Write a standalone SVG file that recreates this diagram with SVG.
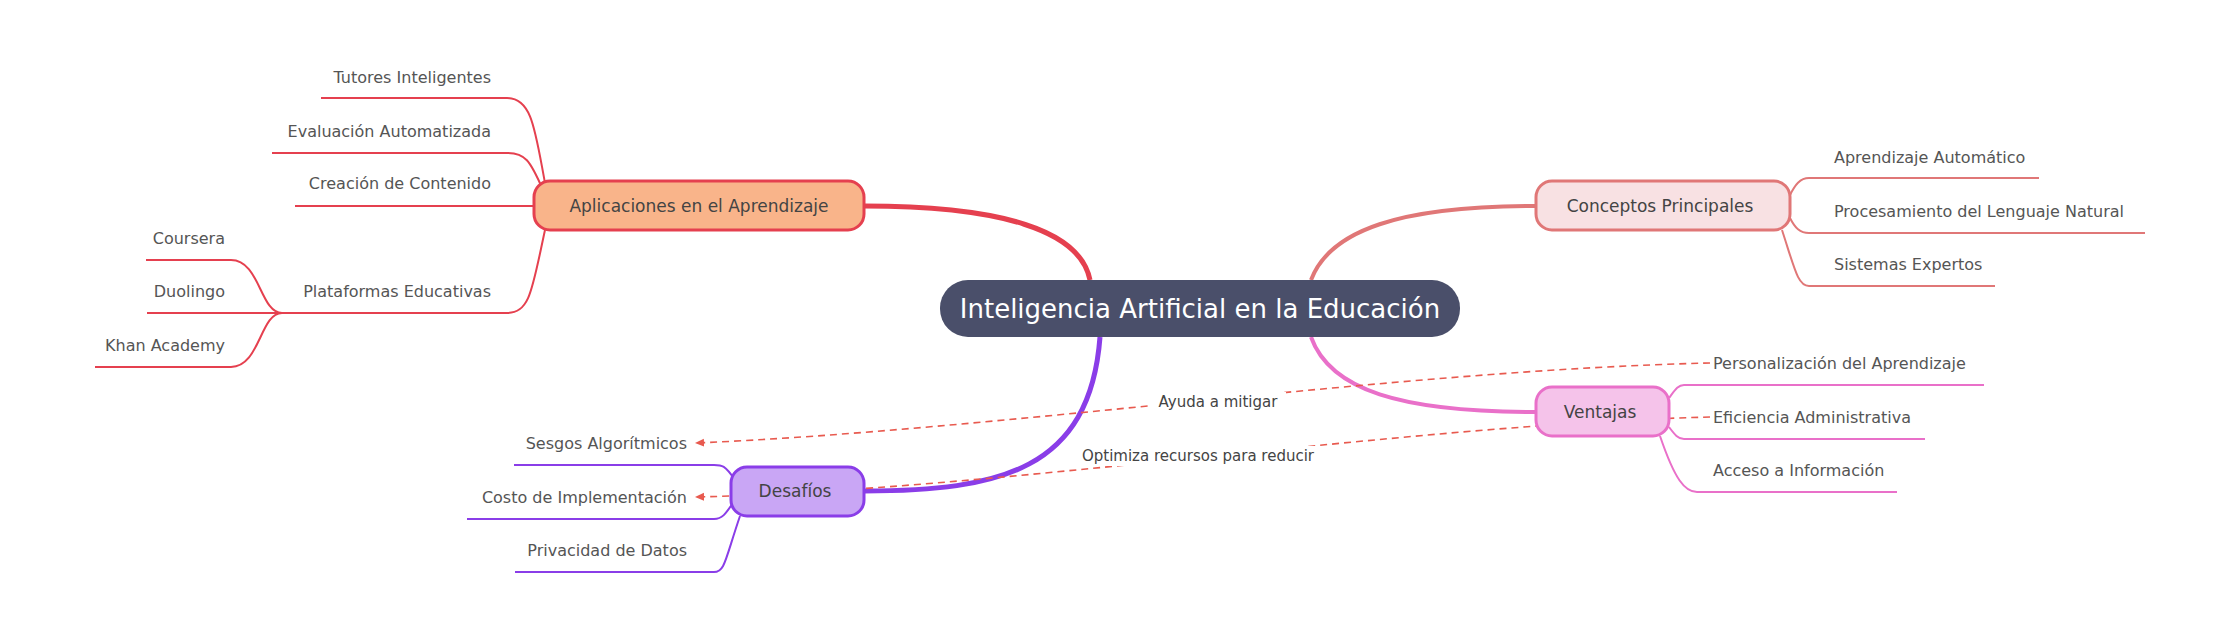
<svg xmlns="http://www.w3.org/2000/svg" width="2239" height="617" viewBox="0 0 2239 617">
<style>
text{font-family:"DejaVu Sans","Liberation Sans",sans-serif;}
.c{font-size:16px;fill:#555;dominant-baseline:central}
.n{font-size:17px;fill:#444;dominant-baseline:central;text-anchor:middle}
.l{font-size:15px;fill:#444;dominant-baseline:central;text-anchor:middle}
.e{fill:none;stroke-width:2}
.dash{fill:none;stroke:#e85a4f;stroke-width:1.6;stroke-dasharray:7 5}
</style>
<defs><marker id="ar" markerWidth="10" markerHeight="10" refX="8" refY="5" orient="auto" markerUnits="userSpaceOnUse"><path d="M0,1 L9,5 L0,9 z" fill="#e85a4f"/></marker></defs>
<g id="connectors">
<path d="M864,206 C1000,206 1080,230 1090,280" stroke="#e5404f" stroke-width="5" fill="none"/>
<path d="M864,491 C1000,491 1090,470 1100,337" stroke="#8a3de8" stroke-width="5" fill="none"/>
<path d="M1311,280 C1330,230 1400,206 1536,206" stroke="#e07777" stroke-width="4" fill="none"/>
<path d="M1311,337 C1330,390 1400,412 1536,412" stroke="#e970c9" stroke-width="4" fill="none"/>
<g stroke="#e5404f" class="e">
<path d="M545,183 C535,130 532,98 507,98 L321,98"/>
<path d="M543,190 C530,160 525,153 507,153 L272,153"/>
<path d="M534,206 L295,206"/>
<path d="M545,230 C532,290 530,313 507,313 L282,313"/>
<path d="M282,313 C260,313 260,260 231,260 L146,260"/>
<path d="M282,313 L147,313"/>
<path d="M282,313 C260,313 260,367 231,367 L95,367"/>
</g>
<g stroke="#8a3de8" class="e">
<path d="M735,480 C725,465 722,465 714,465 L514,465"/>
<path d="M735,500 C725,515 722,519 714,519 L467,519"/>
<path d="M740,516 C725,560 725,572 714,572 L515,572"/>
</g>
<g stroke="#e07777" class="e">
<path d="M1790,195 C1795,185 1800,178 1809,178 L2039,178"/>
<path d="M1790,218 C1795,228 1800,233 1809,233 L2145,233"/>
<path d="M1782,230 C1795,270 1798,286 1809,286 L1995,286"/>
</g>
<g stroke="#e970c9" class="e">
<path d="M1669,398 C1675,390 1678,385 1684,385 L1984,385"/>
<path d="M1669,427 C1675,435 1678,439 1684,439 L1925,439"/>
<path d="M1660,436 C1675,480 1685,492 1697,492 L1897,492"/>
</g>
<path class="dash" d="M1710,363 C1400,370 1000,430 696,443" marker-end="url(#ar)"/>
<path class="dash" d="M1710,417 C1400,425 1000,490 696,497" marker-end="url(#ar)"/>
<rect x="1150" y="392" width="136" height="20" fill="#fff"/>
<rect x="1072" y="446" width="252" height="20" fill="#fff"/>
<text class="l" x="1218" y="402">Ayuda a mitigar</text>
<text class="l" x="1198" y="456">Optimiza recursos para reducir</text>
</g>
<g id="center"><rect x="940" y="280" width="520" height="57" rx="28" fill="#4a4f6a"/><text x="1200" y="309" font-size="26" fill="#fff" text-anchor="middle" dominant-baseline="central">Inteligencia Artificial en la Educación</text></g>
<g id="aplicaciones"><rect x="534" y="181" width="330" height="49" rx="16" fill="#f9b48a" stroke="#e5404f" stroke-width="3"/><text class="n" x="699" y="206">Aplicaciones en el Aprendizaje</text></g>
<g id="desafios"><rect x="731" y="467" width="133" height="49" rx="16" fill="#c9a6f5" stroke="#8a3de8" stroke-width="3"/><text class="n" x="795" y="491">Desafíos</text></g>
<g id="conceptos"><rect x="1536" y="181" width="254" height="49" rx="16" fill="#f8e1e3" stroke="#e07777" stroke-width="3"/><text class="n" x="1660" y="206">Conceptos Principales</text></g>
<g id="ventajas"><rect x="1536" y="387" width="133" height="49" rx="16" fill="#f5c3ea" stroke="#e970c9" stroke-width="3"/><text class="n" x="1600" y="412">Ventajas</text></g>
<g id="leaves" class="c">
<text class="c" x="491" y="77" text-anchor="end">Tutores Inteligentes</text>
<text class="c" x="491" y="131" text-anchor="end">Evaluación Automatizada</text>
<text class="c" x="491" y="183" text-anchor="end">Creación de Contenido</text>
<text class="c" x="491" y="291" text-anchor="end">Plataformas Educativas</text>
<text class="c" x="225" y="238" text-anchor="end">Coursera</text>
<text class="c" x="225" y="291" text-anchor="end">Duolingo</text>
<text class="c" x="225" y="345" text-anchor="end">Khan Academy</text>
<text class="c" x="687" y="443" text-anchor="end">Sesgos Algorítmicos</text>
<text class="c" x="687" y="497" text-anchor="end">Costo de Implementación</text>
<text class="c" x="687" y="550" text-anchor="end">Privacidad de Datos</text>
<text class="c" x="1834" y="157">Aprendizaje Automático</text>
<text class="c" x="1834" y="211">Procesamiento del Lenguaje Natural</text>
<text class="c" x="1834" y="264">Sistemas Expertos</text>
<text class="c" x="1713" y="363">Personalización del Aprendizaje</text>
<text class="c" x="1713" y="417">Eficiencia Administrativa</text>
<text class="c" x="1713" y="470">Acceso a Información</text>
</g>
</svg>
